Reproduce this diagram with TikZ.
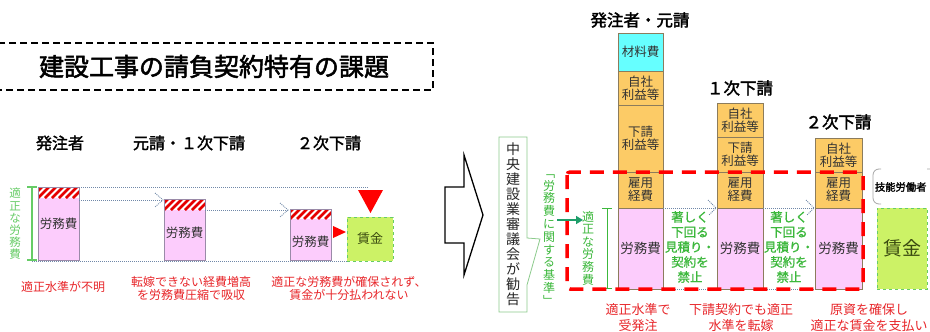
\documentclass[tikz,border=0pt]{standalone}
\usepackage{fontspec}
\setmainfont{Noto Sans CJK JP}
\newfontfamily\jpb[FakeBold=2]{Noto Sans CJK JP}
\newfontfamily\jpm[FakeBold=1]{Noto Sans CJK JP}
\usetikzlibrary{arrows.meta}
\definecolor{pinkc}{HTML}{FCCCFC}
\definecolor{orangec}{HTML}{FCCB66}
\definecolor{cyanc}{HTML}{66FFFF}
\definecolor{limec}{HTML}{CCF266}
\definecolor{greent}{HTML}{3CB83C}
\definecolor{greenl}{HTML}{66CC66}
\definecolor{greenb}{HTML}{8CCB8C}
\definecolor{redt}{HTML}{E8262A}
\definecolor{redd}{HTML}{FF0000}
\definecolor{dotc}{HTML}{7088A8}
\definecolor{barb}{HTML}{9A8AA8}
\definecolor{segb}{HTML}{8C7C5C}
\definecolor{arrg}{HTML}{1E9E6A}
\definecolor{txt}{HTML}{333333}
\definecolor{olive}{HTML}{3A4A10}
\newcommand\lhatchbar[5]{%
  \fill[pinkc] (#1,#4) rectangle (#2,#5);
  \begin{scope}
    \clip (#1,#3) rectangle (#2,#4);
    \fill[white] (#1,#3) rectangle (#2,#4);
    \foreach \s in {-14,-7,...,49} \draw[redd!90!black, line width=2.8pt] (#1+\s,#4) -- ++(13,-13);
  \end{scope}
  \draw[barb, line width=0.6pt] (#1,#3) rectangle (#2,#5);
}
\tikzset{
  lbl/.style={inner sep=0pt, outer sep=0pt, align=center},
  hdr/.style={lbl, font=\jpb\fontsize{16pt}{19pt}\selectfont, text=black},
  rhdr/.style={lbl, font=\jpb\fontsize{16.5pt}{19pt}\selectfont, text=black},
  redtxt/.style={lbl, text=redt, font=\fontsize{12pt}{13pt}\selectfont},
  redtxtr/.style={lbl, text=redt, font=\fontsize{13pt}{16pt}\selectfont},
  dotl/.style={draw=dotc, line width=0.8pt, dash pattern=on 1pt off 1pt},
  seg/.style={draw=segb, line width=0.6pt, inner sep=0pt, outer sep=0pt, text=txt, align=center,
    font=\fontsize{12.5pt}{13pt}\selectfont, minimum width=45pt},
  wagebox/.style={draw=greenl, fill=limec, dashed, line width=1pt, inner sep=0pt, text=olive},
  gtxt/.style={lbl, text=greent, font=\jpm\fontsize{12.5pt}{15pt}\selectfont},
}
\begin{document}
\begin{tikzpicture}[x=1pt, y=-1pt]
\useasboundingbox (0,0) rectangle (930,332);
\fill[white] (0,0) rectangle (930,332);

% ---------- left half ----------
\node[draw=black, line width=1.5pt, dash pattern=on 7pt off 4pt, minimum width=438pt, minimum height=47pt,
  inner sep=0pt, font=\jpb\fontsize{25pt}{28pt}\selectfont] (title) at (214,66.5) {建設工事の請負契約特有の課題};

\node[hdr] (h1) at (60,143) {発注者};
\node[hdr] (h2) at (189,143) {元請・１次下請};
\node[hdr] (h3) at (329,143) {２次下請};

% dotted guide lines
\draw[dotl] (79,187) -- (368,187);
\draw[dotl] (32,261) -- (347,261);

\lhatchbar{38}{79}{187}{198}{260}
\lhatchbar{164}{205}{199}{210}{260}
\lhatchbar{290}{331}{209}{219}{260}
\coordinate (b1r) at (79,200);
\coordinate (b2l) at (163,200);
\coordinate (b2r) at (205,210);
\coordinate (b3l) at (288,210);
\draw[dotl] (b1r) -- (b2l);
\draw[dotl] (155,193) -- (b2l) -- (155,207);
\draw[dotl] (b2r) -- (b3l);
\draw[dotl] (280,203) -- (b3l) -- (280,217);

\node[lbl, text=txt, font=\fontsize{12.5pt}{14pt}\selectfont] (lb1) at (58.5,224) {労務費};
\node[lbl, text=txt, font=\fontsize{12.5pt}{14pt}\selectfont] (lb2) at (184.5,233) {労務費};
\node[lbl, text=txt, font=\fontsize{12.5pt}{14pt}\selectfont] (lb3) at (310.5,242) {労務費};

% green bracket
\draw[greenl, line width=1.2pt] (27,187) -- (37,187) (32,187) -- (32,260) (27,260) -- (37,260);
\node[lbl, text=greenl, font=\fontsize{11.5pt}{12.2pt}\selectfont] (lt) at (15,224) {適\\正\\な\\労\\務\\費};

% red triangles and wage box
\fill[redd] (333,226) -- (346,232) -- (333,238) -- cycle;
\fill[redd] (358,190) -- (383,190) -- (370.5,213) -- cycle;
\node[wagebox, minimum width=46pt, minimum height=44pt, font=\fontsize{13pt}{14pt}\selectfont] (w1) at (370,239) {賃金};

\node[redtxt] (r1) at (63,287) {適正水準が不明};
\node[redtxt] (r2) at (191,288.5) {転嫁できない経費増高\\を労務費圧縮で吸収};
\node[redtxt] (r3) at (349,288.5) {適正な労務費が確保されず、\\賃金が十分払われない};

% ---------- big hollow arrow ----------
\draw[black, line width=1.3pt, fill=white, line join=miter] (445,187) -- (464,187) -- (464,155) -- (483,215) -- (464,275) -- (464,243) -- (445,243) -- cycle;

% ---------- right half ----------
\draw[greenb, line width=0.8pt, fill=white] (499,137) -- (527,137) -- (527,238) -- (540,239) -- (527,285) -- (527,312) -- (499,312) -- cycle;
\node[lbl, text=black!85, font=\fontsize{14pt}{15pt}\selectfont] (chuo) at (513,224.5) {中\\央\\建\\設\\業\\審\\議\\会\\が\\勧\\告};
\node[lbl, text=greent, font=\fontsize{12pt}{12.8pt}\selectfont] (kijun) at (549,240) {﹁\\労\\務\\費\\に\\関\\す\\る\\基\\準\\﹂};

\node[rhdr] (rh1) at (640,20) {発注者・元請};
\node[rhdr] (rh2) at (740,88) {１次下請};
\node[rhdr] (rh3) at (838.5,122) {２次下請};

% column 1
\node[seg, fill=cyanc, minimum height=38pt] (c1a) at (640.5,52) {材料費};
\node[seg, fill=orangec, minimum height=34pt] (c1b) at (640.5,88) {自社\\利益等};
\node[seg, fill=orangec, minimum height=67pt] (c1c) at (640.5,138.5) {下請\\利益等};
\node[seg, fill=orangec, minimum height=36pt] (c1d) at (640.5,190) {雇用\\経費};
\node[seg, fill=pinkc, minimum height=81pt, font=\fontsize{13.5pt}{14pt}\selectfont] (c1e) at (640.5,248.5) {労務費};
% column 2
\node[seg, fill=orangec, minimum height=34pt, minimum width=46pt] (c2b) at (740,120) {自社\\利益等};
\node[seg, fill=orangec, minimum height=35pt, minimum width=46pt] (c2c) at (740,154.5) {下請\\利益等};
\node[seg, fill=orangec, minimum height=36pt, minimum width=46pt] (c2d) at (740,190) {雇用\\経費};
\node[seg, fill=pinkc, minimum height=81pt, minimum width=46pt, font=\fontsize{13.5pt}{14pt}\selectfont] (c2e) at (740,248.5) {労務費};
% column 3
\node[seg, fill=orangec, minimum height=34pt, minimum width=47pt] (c3b) at (838.5,155) {自社\\利益等};
\node[seg, fill=orangec, minimum height=36pt, minimum width=47pt] (c3d) at (838.5,190) {雇用\\経費};
\node[seg, fill=pinkc, minimum height=81pt, minimum width=47pt, font=\fontsize{13.5pt}{14pt}\selectfont] (c3e) at (838.5,248.5) {労務費};

% dotted regions between columns
\draw[dotl] (c1e.north east) -- (716,208);
\draw[dotl] (708,200) -- (716,208) -- (709,215);
\draw[dotl] (c1e.south east) -- (c2e.south west);
\draw[dotl] (c2e.north east) -- (814,208);
\draw[dotl] (806,200) -- (814,208) -- (807,215);
\draw[dotl] (c2e.south east) -- (c3e.south west);
\node[gtxt] (g1) at (690,247) {著しく\\下回る\\見積り・\\契約を\\禁止};
\node[gtxt] (g2) at (789,247) {著しく\\下回る\\見積り・\\契約を\\禁止};

% right green bracket + text
\node[lbl, text=greent, font=\fontsize{12pt}{12.6pt}\selectfont] (tek) at (588,248) {適\\正\\な\\労\\務\\費};
\draw[greent, line width=1pt] (602,208) -- (612,208) (607,208) -- (607,288) (602,288) -- (612,288);
\coordinate (ga) at (557,220);
\coordinate (gb) at (583,220);
\draw[arrg, line width=1.6pt, -{Triangle[length=7pt,width=8pt]}] (ga) -- (gb);

% red dashed frame
\draw[redd, line width=3.5pt, dash pattern=on 14pt off 9pt, rounded corners=3pt] (567,172) rectangle (863,289);

% skilled worker
\draw[gray!70, line width=0.8pt, rounded corners=6pt] (881,169) -- (873,169) -- (873,204) -- (881,204);
\draw[gray!70, line width=0.8pt, rounded corners=6pt] (927,169) -- (936,169) -- (936,204);
\node[lbl, anchor=west, font=\jpb\fontsize{10.3pt}{12pt}\selectfont] (skill) at (875,187) {技能労働者};
\node[wagebox, minimum width=50pt, minimum height=81pt, font=\fontsize{19pt}{20pt}\selectfont] (w2) at (902,248.5) {賃金};

% bottom red texts
\node[redtxtr] (br1) at (638,318) {適正水準で\\受発注};
\node[redtxtr] (br2) at (741,318) {下請契約でも適正\\水準を転嫁};
\node[redtxtr] (br3) at (869,318) {原資を確保し\\適正な賃金を支払い};
\end{tikzpicture}
\end{document}
